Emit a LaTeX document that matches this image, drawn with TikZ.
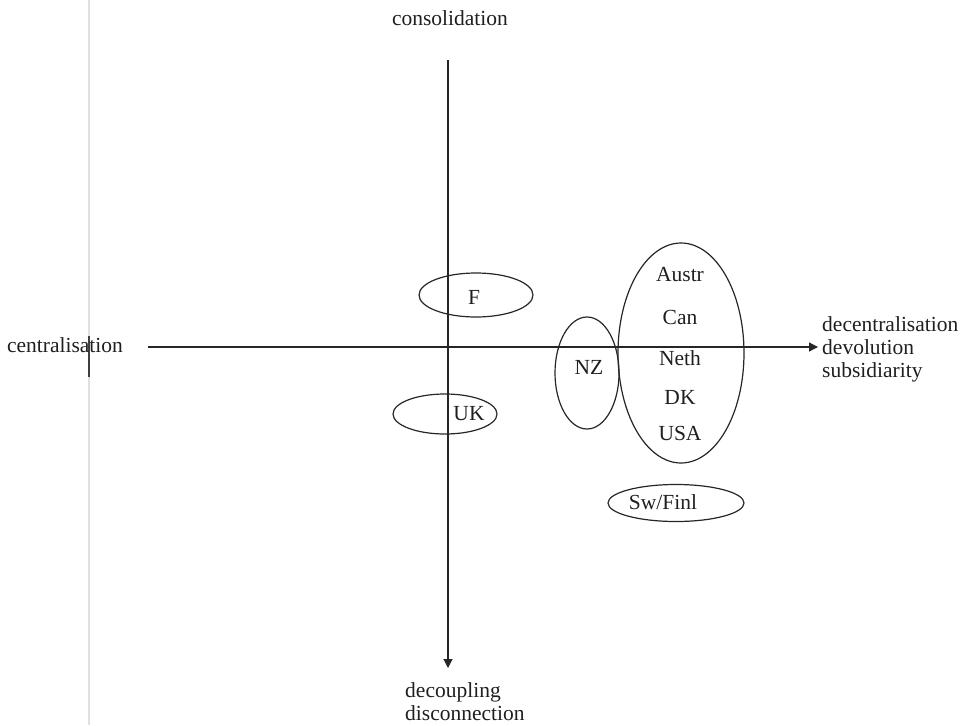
\documentclass[tikz,border=0pt]{standalone}
\usepackage{fontspec}
\setmainfont{Liberation Serif}
\usetikzlibrary{shapes.geometric,arrows.meta}
\begin{document}
\begin{tikzpicture}[x=1pt,y=-1pt,
  lbl/.style={font=\fontsize{21.5}{24}\selectfont, text=black!88, inner sep=0pt},
  oval/.style={ellipse, draw=black!85, line width=1.2pt, inner sep=0pt},
  axis/.style={draw=black!85, line width=1.2pt, -{Triangle[length=9pt,width=9pt]}}]
\useasboundingbox (0,0) rectangle (971,725);
% scan edge
\draw[black!12, line width=2pt] (89,0) -- (89,725);
\draw[black!75, line width=2pt] (89,336) -- (89,377);
% axes
\coordinate (vtop) at (448,60);
\coordinate (vbot) at (448,668);
\coordinate (hleft) at (148,347);
\coordinate (hright) at (818,347);
\draw[axis] (vtop) -- (vbot);
\draw[axis] (hleft) -- (hright);
% axis labels
\node[lbl] (cons) at (450,18) {consolidation};
\node[lbl] (cent) at (65,345) {centralisation};
\node[lbl, anchor=west, align=left, font=\fontsize{21.5}{23}\selectfont] (dec) at (822,349) {decentralisation\\devolution\\subsidiarity};
\node[lbl, anchor=north west, align=left, font=\fontsize{21.5}{23}\selectfont] (dcp) at (405,682) {decoupling\\disconnection};
% ovals
\node[oval, minimum width=114pt, minimum height=44pt] (Fo) at (476,295) {};
\node[lbl] (F) at (474,297) {F};
\node[oval, minimum width=104pt, minimum height=40pt] (UKo) at (445,414) {};
\node[lbl] (UK) at (469,414) {UK};
\node[oval, minimum width=64pt, minimum height=112pt] (NZo) at (587,373) {};
\node[lbl] (NZ) at (589,367) {NZ};
\node[oval, minimum width=126pt, minimum height=220pt] (big) at (681,353) {};
\node[lbl] (Austr) at (680,275) {Austr};
\node[lbl] (Can) at (680,317) {Can};
\node[lbl] (Neth) at (680,358) {Neth};
\node[lbl] (DK) at (680,397) {DK};
\node[lbl] (USA) at (680,433) {USA};
\node[oval, minimum width=136pt, minimum height=37pt] (Swo) at (676,503) {};
\node[lbl] (Sw) at (663,502) {Sw/Finl};
\end{tikzpicture}
\end{document}
